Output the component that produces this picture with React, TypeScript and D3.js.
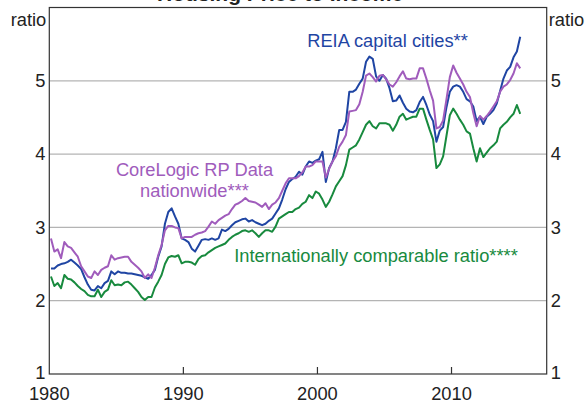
import React from "react";
import * as d3 from "d3";

// Quarterly observations, 1980Q1 .. 2015Q1
const startYear = 1980;
const reiaCapitalCities = [
  2.44, 2.44, 2.48, 2.50, 2.51, 2.53, 2.56, 2.52, 2.48, 2.43, 2.32, 2.22,
  2.15, 2.14, 2.20, 2.17, 2.24, 2.27, 2.40, 2.36, 2.40, 2.38, 2.38, 2.37,
  2.37, 2.36, 2.35, 2.34, 2.32, 2.30, 2.35, 2.42, 2.60, 2.74, 3.05, 3.21,
  3.26, 3.15, 3.05, 2.85, 2.83, 2.80, 2.71, 2.67, 2.75, 2.83, 2.84, 2.83,
  2.85, 2.83, 2.85, 2.97, 2.95, 2.98, 3.03, 3.07, 3.09, 3.11, 3.12, 3.08,
  3.10, 3.07, 3.05, 3.03, 3.05, 3.09, 3.12, 3.19, 3.26, 3.38, 3.52, 3.62,
  3.66, 3.69, 3.76, 3.72, 3.83, 3.90, 3.88, 3.91, 3.93, 4.03, 3.62, 3.81,
  3.90, 4.08, 4.33, 4.33, 4.44, 4.85, 4.85, 4.88, 4.96, 5.03, 5.26, 5.33,
  5.30, 5.06, 5.00, 5.08, 5.03, 4.90, 4.72, 4.73, 4.80, 4.70, 4.62, 4.58,
  4.57, 4.60, 4.71, 4.78, 4.67, 4.54, 4.45, 4.17, 4.32, 4.37, 4.64, 4.85,
  4.92, 4.94, 4.92, 4.85, 4.75, 4.72, 4.65, 4.45, 4.51, 4.41, 4.51, 4.55,
  4.60, 4.69, 4.86, 5.03, 5.14, 5.19, 5.32, 5.40, 5.60,
];
const coreLogicNationwide = [
  2.85, 2.67, 2.70, 2.58, 2.80, 2.74, 2.72, 2.66, 2.60, 2.47, 2.40, 2.33,
  2.31, 2.40, 2.35, 2.42, 2.45, 2.47, 2.62, 2.56, 2.58, 2.59, 2.60, 2.60,
  2.53, 2.49, 2.45, 2.40, 2.31, 2.36, 2.31, 2.45, 2.62, 2.76, 2.96, 3.02,
  3.02, 3.00, 2.99, 2.85, 2.87, 2.87, 2.87, 2.90, 2.92, 2.93, 2.95, 3.01,
  3.08, 3.05, 3.10, 3.13, 3.16, 3.18, 3.25, 3.31, 3.33, 3.36, 3.40, 3.36,
  3.35, 3.34, 3.31, 3.28, 3.33, 3.25, 3.31, 3.34, 3.40, 3.50, 3.60, 3.67,
  3.67, 3.67, 3.70, 3.75, 3.83, 3.83, 3.85, 3.90, 3.90, 3.90, 3.68, 3.80,
  3.90, 3.97, 4.10, 4.17, 4.26, 4.58, 4.59, 4.60, 4.68, 4.85, 5.07, 5.10,
  5.05, 4.99, 5.07, 5.08, 5.02, 4.95, 4.92, 4.98, 5.06, 5.13, 5.03, 5.02,
  5.03, 5.03, 5.17, 5.17, 5.03, 4.87, 4.73, 4.35, 4.37, 4.46, 4.75, 5.05,
  5.21, 5.11, 5.03, 4.95, 4.85, 4.78, 4.56, 4.38, 4.52, 4.47, 4.52, 4.58,
  4.65, 4.72, 4.85, 4.92, 4.95, 5.01, 5.10, 5.24, 5.17,
];
const internationallyComparable = [
  2.33, 2.20, 2.24, 2.17, 2.35, 2.30, 2.29, 2.25, 2.20, 2.16, 2.13, 2.08,
  2.06, 2.06, 2.15, 2.05, 2.12, 2.15, 2.28, 2.21, 2.22, 2.21, 2.25, 2.26,
  2.22, 2.17, 2.12, 2.05, 2.01, 2.05, 2.05, 2.18, 2.26, 2.35, 2.50, 2.59,
  2.61, 2.60, 2.62, 2.51, 2.53, 2.53, 2.52, 2.49, 2.57, 2.61, 2.62, 2.66,
  2.69, 2.72, 2.74, 2.76, 2.78, 2.83, 2.87, 2.90, 2.92, 2.95, 2.96, 2.94,
  2.96, 2.92, 2.87, 2.92, 2.96, 2.96, 2.94, 3.01, 3.12, 3.15, 3.18, 3.21,
  3.21, 3.25, 3.27, 3.32, 3.35, 3.44, 3.40, 3.49, 3.46, 3.38, 3.28, 3.35,
  3.45, 3.56, 3.63, 3.70, 3.85, 4.06, 4.09, 4.12, 4.20, 4.30, 4.40, 4.45,
  4.38, 4.35, 4.42, 4.42, 4.42, 4.40, 4.32, 4.40, 4.51, 4.55, 4.47, 4.49,
  4.51, 4.51, 4.62, 4.62, 4.47, 4.33, 4.20, 3.81, 3.86, 3.97, 4.25, 4.53,
  4.62, 4.55, 4.47, 4.40, 4.31, 4.28, 4.08, 3.90, 4.08, 3.96, 4.02, 4.08,
  4.12, 4.17, 4.35, 4.40, 4.44, 4.50, 4.55, 4.67, 4.55,
];

const yTicks = [1, 2, 3, 4, 5];
const gridValues = [2, 3, 4, 5];
const xTicks = [1980, 1990, 2000, 2010];
const title = "Housing Price to Income";
const unitLabel = "ratio";

const series = [
  { name: "REIA capital cities**", values: reiaCapitalCities, color: "#1f45a3" },
  { name: "CoreLogic RP Data nationwide***", values: coreLogicNationwide, color: "#a05cbc" },
  { name: "Internationally comparable ratio****", values: internationallyComparable, color: "#188a3e" },
];

export default function App() {
  const W = 586;
  const H = 403;
  const left = 49.3;
  const right = 546.7;
  const top = 7.5;
  const bottom = 374;
  const x = d3.scaleLinear().domain([1980, 2017.1]).range([left, right]);
  const y = d3.scaleLinear().domain([1, 6]).range([bottom, top]);
  const font = "'Liberation Sans', Arial, sans-serif";
  const fs = 18.3;
  const dateOf = (i: number) => startYear + (i + 0.5) / 4;
  const line = d3
    .line<number>()
    .x((_, i) => x(dateOf(i)))
    .y((d) => y(d));

  return (
    <svg
      width={W}
      height={H}
      style={{ position: "absolute", left: 0, top: 0, background: "#fff" }}
      fontFamily={font}
    >
      <rect x={0} y={0} width={W} height={H} fill="#fff" />
      <text x={157} y={1} fontSize={21} fontWeight="bold" fill="#222">
        {title}
      </text>
      {gridValues.map((v) => (
        <line key={v} x1={left} x2={right} y1={y(v)} y2={y(v)} stroke="#b4b4b4" strokeWidth={1.2} />
      ))}
      {series.map((s) => (
        <path
          key={s.name}
          d={line(s.values) || ""}
          fill="none"
          stroke={s.color}
          strokeWidth={2}
          strokeLinejoin="round"
        />
      ))}
      <rect x={left} y={top} width={right - left} height={bottom - top} fill="none" stroke="#333" strokeWidth={1.2} />
      {xTicks.slice(1).map((t) => (
        <line key={t} x1={x(t)} x2={x(t)} y1={bottom} y2={bottom - 7} stroke="#333" strokeWidth={1.2} />
      ))}
      {xTicks.map((t) => (
        <text key={t} x={x(t)} y={400} fontSize={fs} textAnchor="middle" fill="#222">
          {t}
        </text>
      ))}
      {yTicks.map((t) => (
        <g key={t}>
          <text x={left - 4} y={y(t) + 6.3 - (t === 1 ? 1.5 : 0)} fontSize={fs} textAnchor="end" fill="#222">
            {t}
          </text>
          <text x={right + 4} y={y(t) + 6.3 - (t === 1 ? 1.5 : 0)} fontSize={fs} textAnchor="start" fill="#222">
            {t}
          </text>
        </g>
      ))}
      <text x={left - 3} y={25.5} fontSize={fs} textAnchor="end" fill="#222">
        {unitLabel}
      </text>
      <text x={right + 2} y={25.5} fontSize={fs} textAnchor="start" fill="#222">
        {unitLabel}
      </text>
      <text x={387.5} y={46.5} fontSize={fs} textAnchor="middle" fill={series[0].color}>
        REIA capital cities**
      </text>
      <text x={194.5} y={176} fontSize={fs} textAnchor="middle" fill={series[1].color}>
        CoreLogic RP Data
      </text>
      <text x={194.5} y={197} fontSize={fs} textAnchor="middle" fill={series[1].color}>
        nationwide***
      </text>
      <text x={376} y={261.5} fontSize={fs} textAnchor="middle" fill={series[2].color}>
        Internationally comparable ratio****
      </text>
    </svg>
  );
}
